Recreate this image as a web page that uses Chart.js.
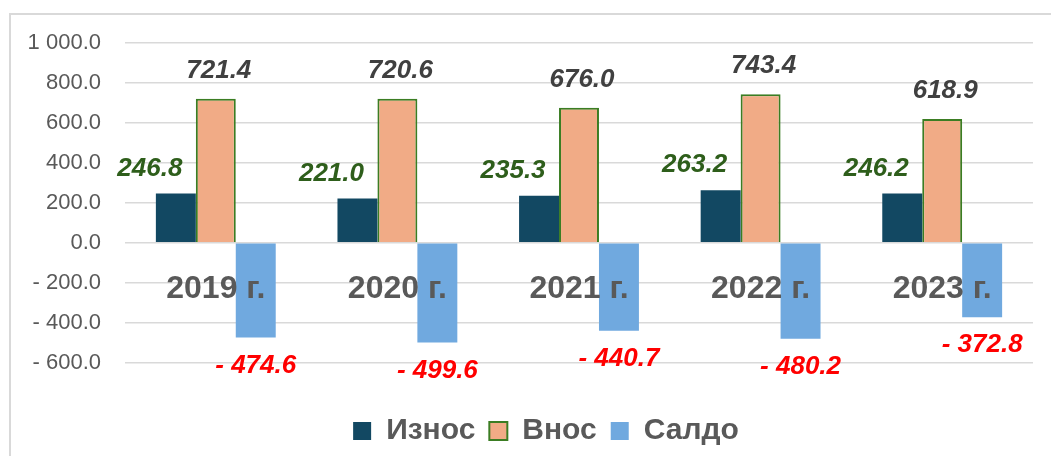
<!DOCTYPE html>
<html>
<head>
<meta charset="utf-8">
<script src="https://cdn.jsdelivr.net/npm/chart.js@4.4.1/dist/chart.umd.min.js"></script>
<style>
    html, body { margin: 0; padding: 0; background: #fff; }
    #wrap { position: relative; width: 1051px; height: 456px; overflow: hidden; }
    #ramka { position: absolute; left: 9px; top: 13px; width: 1100px; height: 500px; border: 2px solid #d9d9d9; box-sizing: border-box; }
    #grafik { position: absolute; left: 0; top: 0; }
</style>
</head>
<body>
<div id="wrap">
    <div id="ramka"></div>
    <canvas id="grafik" width="1051" height="456"></canvas>
</div>
<script>
const godini = ['2019 г.', '2020 г.', '2021 г.', '2022 г.', '2023 г.'];
const iznos = [246.8, 221.0, 235.3, 263.2, 246.2];
const vnos = [721.4, 720.6, 676.0, 743.4, 618.9];
const saldo = [-474.6, -499.6, -440.7, -480.2, -372.8];
const yMin = -600;
const yMax = 1000;
const yStap = 200;

const SHRIFT = "'Liberation Sans', Arial, sans-serif";

function formatChislo(v) {
    let s = Math.abs(v).toFixed(1);
    let [cyalo, drob] = s.split('.');
    cyalo = cyalo.replace(/\B(?=(\d{3})+(?!\d))/g, ' ');
    return (v < 0 ? '- ' : '') + cyalo + '.' + drob;
}

// etiketi nad/pod stalbovete
const etiketi = {
    id: 'etiketi',
    afterDatasetsDraw(chart) {
        const ctx = chart.ctx;
        ctx.save();
        ctx.font = "italic bold 26px " + SHRIFT;
        ctx.textAlign = 'center';
        ctx.textBaseline = 'middle';
        chart.data.datasets.forEach((ds, i) => {
            const meta = chart.getDatasetMeta(i);
            meta.data.forEach((bar, j) => {
                const v = ds.data[j];
                let x = bar.x, y = bar.y;
                if (i === 0) { ctx.fillStyle = '#2E5E1B'; x -= 26; y -= 25; }
                else if (i === 1) { ctx.fillStyle = '#404040'; x += 3; y -= 28; }
                else { ctx.fillStyle = '#FF0000'; y += 28; }
                ctx.fillText(formatChislo(v), x, y);
            });
        });
        ctx.restore();
    }
};

// legendata e malko vdyasno ot sredata
const sdvigLegenda = {
    id: 'sdvigLegenda',
    afterLayout(chart) {
        chart.legend.left += 17;
        chart.legend.right += 17;
    }
};

new Chart(document.getElementById('grafik'), {
    type: 'bar',
    data: {
        labels: godini,
        datasets: [
            { label: 'Износ', data: iznos, backgroundColor: '#124862', borderWidth: 0 },
            { label: 'Внос', data: vnos, backgroundColor: '#F1AB86', borderColor: '#3B7D23', borderWidth: 2 },
            { label: 'Салдо', data: saldo, backgroundColor: '#70A9DF', borderWidth: 0 }
        ]
    },
    options: {
        responsive: false,
        animation: false,
        barPercentage: 1,
        categoryPercentage: 0.66,
        layout: { padding: { left: 25, right: 18, top: 43, bottom: 0 } },
        plugins: {
            tooltip: { enabled: false },
            legend: {
                position: 'bottom',
                title: { display: true, text: '', padding: { top: 0, bottom: 25 } },
                labels: {
                    boxWidth: 18, boxHeight: 18, padding: 14,
                    color: '#595959',
                    font: { family: SHRIFT, size: 30, weight: 'bold' }
                }
            }
        },
        scales: {
            x: {
                position: { y: 0 },
                grid: { display: false, drawTicks: false },
                border: { display: false },
                ticks: {
                    z: 1, padding: 27, color: '#595959',
                    font: { family: SHRIFT, size: 32, weight: 'bold' }
                }
            },
            y: {
                min: yMin, max: yMax,
                afterFit(s) { s.width = 100; },
                grid: { color: '#D9D9D9', lineWidth: 1.5, drawTicks: false },
                border: { display: false },
                ticks: {
                    stepSize: yStap, padding: 24, color: '#595959',
                    font: { family: SHRIFT, size: 22 },
                    callback: v => formatChislo(v)
                }
            }
        }
    },
    plugins: [etiketi, sdvigLegenda]
});
</script>
</body>
</html>
